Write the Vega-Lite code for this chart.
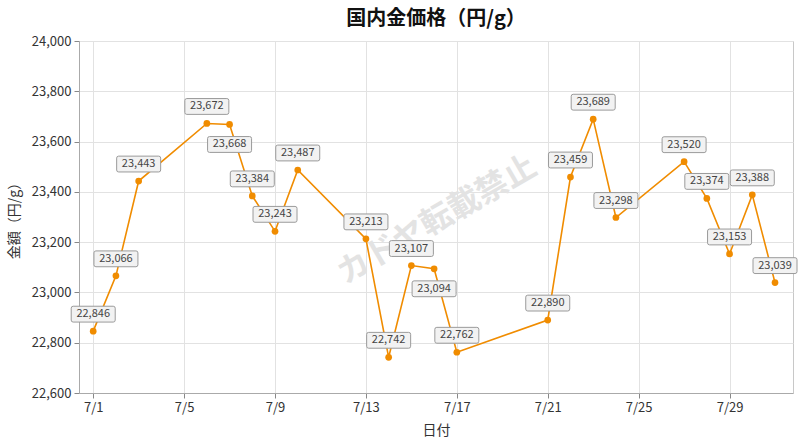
{
  "$schema": "https://vega.github.io/schema/vega-lite/v6.json",
  "width": 714,
  "height": 352,
  "autosize": {"type": "none"},
  "padding": {"left": 79, "top": 41, "right": 7, "bottom": 54},
  "background": "white",
  "title": {
    "text": "国内金価格（円/g）",
    "font": "Noto Sans CJK JP",
    "fontSize": 20,
    "fontWeight": "bold",
    "color": "#111",
    "anchor": "middle",
    "offset": 6
  },
  "config": {
    "font": "Noto Sans CJK JP",
    "view": {"stroke": "#c8c8c8", "strokeWidth": 1},
    "axis": {
      "labelFont": "Noto Sans CJK JP",
      "labelFontSize": 13,
      "labelColor": "#333",
      "titleFont": "Noto Sans CJK JP",
      "titleFontSize": 14,
      "titleFontWeight": "normal",
      "titleColor": "#333",
      "gridColor": "#e2e2e2",
      "domainColor": "#aaa",
      "tickColor": "#888",
      "tickSize": 5
    }
  },
  "datasets": {
    "watermark": [{"text": "カドヤ転載禁止", "date": "2026/07/16 03:00", "price": 23288}]
  },
  "data": {
    "values": [
      {"date": "2026/07/01", "price": 22846},
      {"date": "2026/07/02", "price": 23066},
      {"date": "2026/07/03", "price": 23443},
      {"date": "2026/07/06", "price": 23672},
      {"date": "2026/07/07", "price": 23668},
      {"date": "2026/07/08", "price": 23384},
      {"date": "2026/07/09", "price": 23243},
      {"date": "2026/07/10", "price": 23487},
      {"date": "2026/07/13", "price": 23213},
      {"date": "2026/07/14", "price": 22742},
      {"date": "2026/07/15", "price": 23107},
      {"date": "2026/07/16", "price": 23094},
      {"date": "2026/07/17", "price": 22762},
      {"date": "2026/07/21", "price": 22890},
      {"date": "2026/07/22", "price": 23459},
      {"date": "2026/07/23", "price": 23689},
      {"date": "2026/07/24", "price": 23298},
      {"date": "2026/07/27", "price": 23520},
      {"date": "2026/07/28", "price": 23374},
      {"date": "2026/07/29", "price": 23153},
      {"date": "2026/07/30", "price": 23388},
      {"date": "2026/07/31", "price": 23039}
    ]
  },
  "encoding": {
    "x": {
      "field": "date",
      "type": "temporal",
      "title": "日付",
      "scale": {
        "domain": [
          {"year": 2026, "month": 6, "date": 30, "hours": 9},
          {"year": 2026, "month": 7, "date": 31, "hours": 19}
        ]
      },
      "axis": {
        "format": "%-m/%-d",
        "values": [
          {"year": 2026, "month": 7, "date": 1},
          {"year": 2026, "month": 7, "date": 5},
          {"year": 2026, "month": 7, "date": 9},
          {"year": 2026, "month": 7, "date": 13},
          {"year": 2026, "month": 7, "date": 17},
          {"year": 2026, "month": 7, "date": 21},
          {"year": 2026, "month": 7, "date": 25},
          {"year": 2026, "month": 7, "date": 29}
        ],
        "labelPadding": 3,
        "titlePadding": 9
      }
    },
    "y": {
      "field": "price",
      "type": "quantitative",
      "title": "金額（円/g）",
      "scale": {"domain": [22600, 24000], "nice": false, "zero": false},
      "axis": {
        "values": [22600, 22800, 23000, 23200, 23400, 23600, 23800, 24000],
        "format": ",d",
        "labelPadding": 3,
        "titlePadding": 10
      }
    }
  },
  "layer": [
    {
      "data": {"name": "watermark"},
      "mark": {
        "type": "text",
        "angle": 330,
        "fontSize": 32,
        "fontWeight": "bold",
        "color": "#e3e3e3",
        "align": "center",
        "baseline": "middle"
      },
      "encoding": {
        "text": {"field": "text"}
      }
    },
    {
      "mark": {"type": "line", "color": "#f08c00", "strokeWidth": 1.6}
    },
    {
      "mark": {"type": "point", "filled": true, "color": "#f08c00", "size": 45, "opacity": 1}
    },
    {
      "transform": [{"filter": {"not": {"field": "price", "oneOf": [23668, 23094]}}}],
      "layer": [
        {
          "mark": {
            "type": "point",
            "shape": "M-0.91,-0.36H0.91Q1,-0.36 1,-0.27V0.27Q1,0.36 0.91,0.36H-0.91Q-1,0.36 -1,0.27V-0.27Q-1,-0.36 -0.91,-0.36Z",
            "size": 1936,
            "filled": true,
            "fill": "#f2f2f2",
            "stroke": "#9a9a9a",
            "strokeWidth": 1,
            "opacity": 1,
            "yOffset": -17
          }
        },
        {
          "mark": {"type": "text", "fontSize": 11, "color": "#444", "yOffset": -17, "baseline": "middle"},
          "encoding": {"text": {"field": "price", "type": "quantitative", "format": ",d"}}
        }
      ]
    },
    {
      "transform": [{"filter": {"field": "price", "oneOf": [23668, 23094]}}],
      "layer": [
        {
          "mark": {
            "type": "point",
            "shape": "M-0.91,-0.36H0.91Q1,-0.36 1,-0.27V0.27Q1,0.36 0.91,0.36H-0.91Q-1,0.36 -1,0.27V-0.27Q-1,-0.36 -0.91,-0.36Z",
            "size": 1936,
            "filled": true,
            "fill": "#f2f2f2",
            "stroke": "#9a9a9a",
            "strokeWidth": 1,
            "opacity": 1,
            "yOffset": 20
          }
        },
        {
          "mark": {"type": "text", "fontSize": 11, "color": "#444", "yOffset": 20, "baseline": "middle"},
          "encoding": {"text": {"field": "price", "type": "quantitative", "format": ",d"}}
        }
      ]
    }
  ]
}
